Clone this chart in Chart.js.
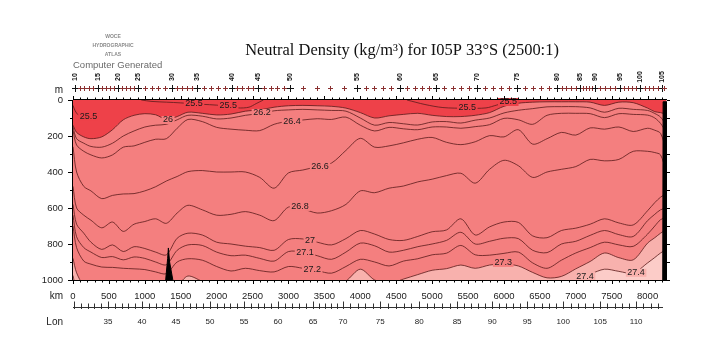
<!DOCTYPE html>
<html><head><meta charset="utf-8">
<script src="https://cdn.jsdelivr.net/npm/chart.js@4.4.1/dist/chart.umd.min.js"></script>
<style>html,body{margin:0;padding:0;background:#fff}canvas{display:block}</style>
</head><body>
<canvas id="c" width="710" height="340"></canvas>
<script>
// ---- distance grid (km) shared by all contour lines ----
const K = [0,50,150,250,400,550,700,850,1000,1150,1300,1450,1600,1800,2000,2200,2400,2600,2800,3000,3200,3400,3600,3800,4000,4200,4400,4600,4800,5000,5200,5400,5600,5800,6000,6200,6400,6600,6800,7000,7200,7400,7600,7800,8000,8100,8180,8260];
// ---- contour depths (m) for each neutral density level ----
const D260 = [140,180,205,215,205,165,110,85,76,82,108,92,68, 74,83,78,62,55,40,32,30,32,35,45,70, 100,88,80,74,85,92,92,85,70,35,18,12,10,10,10,12,30,12,15,45, 65,70,80];
const D262 = [150,215,240,258,262,240,200,172,150,140,135,110,85, 90,105,100,85,75,60,55,52,55,58,62,100, 140,125,132,139,122,120,128,112,100,72,57,48,38,37,37,44,68,46,52,58, 75,95,140];
const D264 = [170,250,285,305,322,305,262,255,235,218,215,157,108, 120,152,162,168,170,135,118,111,104,108,95,140, 172,152,160,165,150,150,157,148,137,102,110,135,85,74,74,76,98,76,80,84, 100,130,180];
const D266 = [260,400,480,505,548,530,522,520,505,482,450,425,398, 392,400,400,400,430,490,405,389,370,350,280,213, 262,255,238,218,208,235,248,232,198,205,165,245,215,180,195,155,162,150,175,157, 168,185,280];
const D268 = [480,600,640,668,710,678,730,690,675,660,685,628,585, 610,640,635,620,640,670,595,605,628,615,580,505, 515,490,478,455,440,420,407,462,385,335,365,430,400,385,370,330,338,330,285,285, 292,305,400];
const D270 = [580,690,740,790,830,805,842,815,825,845,860,768,740, 750,790,800,812,820,835,775,772,790,805,770,725, 745,775,780,758,732,722,660,750,705,678,680,755,765,725,712,690,660,683,694,615, 570,540,520];
const D271 = [640,760,820,845,875,870,888,872,880,900,915,835,805, 808,845,865,862,880,895,842,845,865,885,845,795, 810,845,835,815,800,780,735,800,785,768,770,835,848,800,785,752,725,748,758,670, 635,610,600];
const D272 = [700,820,895,912,928,930,935,938,942,955,965,900,882, 890,925,950,935,948,955,925,935,948,962,925,885, 900,922,895,882,860,851,808,860,862,852,845,905,935,890,850,820,790,805,813,745, 700,665,650];
const D273 = [880,960,1030,1040,1040,1040,1040,1040,1040,1040,1040,1030,978, 1008,1040,1040,1040,1040,1040,1040,1040,1040,1030,1005,940, 1000,1020,995,970,946,937,917,935,917,911,922,958,988,980,938,897,850,876,888,795, 765,740,720];
const D274 = [975,1050,1060,1060,1060,1060,1060,1060,1060,1060,1060,1060,1060, 1060,1060,1060,1060,1060,1060,1060,1060,1060,1060,1060,1060, 1060,1060,1060,1060,1060,1060,1060,1060,1060,1060,1060,1060,1060,1040,1002,968,940,952,962,905, 875,850,830];
// 25.5 contour pieces near the surface
const S255A_KM = [0,30,70,120],            S255A_D = [30,60,82,89];
const S255B_KM = [950,1100,1300,1500,1700,1900,2100,2300,2450,2550,2650], S255B_D = [0,8,12,16,22,26,32,44,40,20,0];
const S255C_KM = [4650,4900,5150,5480,5750,5900,6060,6200], S255C_D = [0,25,42,46,44,28,11,0];
// bottom topography (black)
const SEAMOUNT_KM = [1290,1318,1328,1345,1390], SEAMOUNT_D = [1000,880,822,900,1000];
const LAND_KM = [8210,8216,8270], LAND_D = [1000,10,10];
// contour labels
const LABEL_TXT = ['25.5','25.5','25.5','26','26.2','26.4','26.6','26.8','27','27.1','27.2','25.5','25.5','27.3','27.4','27.4'];
const LABEL_KM  = [215,1685,2160,1323,2630,3050,3440,3160,3300,3230,3330,5490,6060,5990,7840,7130];
const LABEL_D   = [89,22,33,111,72,117,367,594,783,850,944,44,11,905,960,990];
// axes
const KM_TICKS = [0,500,1000,1500,2000,2500,3000,3500,4000,4500,5000,5500,6000,6500,7000,7500,8000];
const DEPTH_TICKS = [0,200,400,600,800,1000];
const LON_LABELS = [35,40,45,50,55,60,65,70,75,80,85,90,95,100,105,110];
const LON_KM = [487,961,1435,1908,2382,2855,3343,3760,4276,4819,5348,5836,6323,6825,7340,7841];
// stations
const STATION_KM = [28,92,156,220,284,348,404,460,516,572,627,683,739,794,850,905,1000,1095,1190,1284,1379,1449,1518,1588,1657,1727,1824,1922,2019,2117,2214,2287,2359,2432,2504,2577,2666,2755,2844,2933,3022,3209,3395,3582,3768,3955,4075,4195,4314,4434,4554,4654,4755,4855,4956,5056,5170,5284,5399,5513,5627,5738,5850,5961,6073,6184,6295,6407,6518,6630,6741,6805,6869,6933,6997,7061,7103,7145,7186,7228,7270,7340,7409,7479,7548,7618,7674,7730,7785,7841,7897,7958,8019,8081,8142,8203,8225];
const STATION_FIRST = 10;

const RED='#ee4149', SALMON='#f47f7f', PINK='#f8b1ad', PALE='#fcccc8', LINE='#5a1a1a';
const pts = (xs, ys) => xs.map((x,i)=>({x:x, y:ys[i]}));

const contours = [
  {d:D260, fill:RED}, {d:D262}, {d:D264}, {d:D266}, {d:D268},
  {d:D270}, {d:D271}, {d:D272}, {d:D273, fill:SALMON}, {d:D274, fill:PINK}
];
const datasets = [
  {data:pts(LAND_KM,LAND_D), borderColor:'#000', borderWidth:1, backgroundColor:'#000', fill:{value:1000}, tension:0},
  {data:pts(SEAMOUNT_KM,SEAMOUNT_D), borderColor:'#000', borderWidth:1, backgroundColor:'#000', fill:{value:1000}, tension:0},
  {data:pts(S255A_KM,S255A_D), borderColor:LINE, borderWidth:0.8, fill:false, tension:0.3},
  {data:pts(S255B_KM,S255B_D), borderColor:LINE, borderWidth:0.8, fill:false, tension:0.3},
  {data:pts(S255C_KM,S255C_D), borderColor:LINE, borderWidth:0.8, fill:false, tension:0.3},
  ...contours.map(c => ({data:pts(K,c.d), borderColor:LINE, borderWidth:0.8,
      backgroundColor:c.fill||'rgba(0,0,0,0)', fill:c.fill?{value:0}:false, tension:0.3}))
];

function bgColorFor(t){ const v=parseFloat(t); if(v<26) return RED; if(v<27.35) return SALMON; return PINK; }
function lonToKm(l){
  let i=0; while(i<LON_LABELS.length-2 && l>LON_LABELS[i+1]) i++;
  const l0=LON_LABELS[i], l1=LON_LABELS[i+1], k0=LON_KM[i], k1=LON_KM[i+1];
  return k0+(l-l0)*(k1-k0)/(l1-l0);
}

const decor = {
  id:'decor',
  beforeDatasetsDraw(chart){
    const a=chart.chartArea, ctx=chart.ctx;
    ctx.save(); ctx.fillStyle=PALE; ctx.fillRect(a.left,a.top,a.right-a.left,a.bottom-a.top); ctx.restore();
  },
  afterDatasetsDraw(chart){
    const ctx=chart.ctx, xs=chart.scales.x, ys=chart.scales.y;
    ctx.save();
    ctx.font='9px "Liberation Sans", Arial, sans-serif';
    ctx.textAlign='center'; ctx.textBaseline='middle';
    LABEL_TXT.forEach((t,i)=>{
      const x=xs.getPixelForValue(LABEL_KM[i]), y=ys.getPixelForValue(LABEL_D[i]);
      const w=ctx.measureText(t).width;
      ctx.fillStyle=bgColorFor(t);
      ctx.fillRect(x-w/2-1.5, Math.min(y-4, chart.chartArea.bottom-8), w+3, 8);
      ctx.fillStyle='#1a1a1a';
      ctx.fillText(t, x, Math.min(y, chart.chartArea.bottom-3.5));
    });
    ctx.restore();
  },
  afterDraw(chart){
    const ctx=chart.ctx, a=chart.chartArea, xs=chart.scales.x, ys=chart.scales.y;
    ctx.save();
    ctx.strokeStyle='#000'; ctx.lineWidth=1;
    // frame
    ctx.beginPath();
    ctx.moveTo(a.left-0.5,a.top); ctx.lineTo(a.left-0.5,a.bottom);
    ctx.moveTo(a.left,a.top-0.5); ctx.lineTo(a.right,a.top-0.5);
    ctx.moveTo(a.left,a.bottom+0.5); ctx.lineTo(a.right,a.bottom+0.5);
    ctx.stroke();
    // km ticks top & bottom
    ctx.beginPath();
    for(let k=0;k<=8200;k+=100){
      const x=Math.round(xs.getPixelForValue(k))+0.5, L=(k%500===0)?4:2.5;
      ctx.moveTo(x,a.top); ctx.lineTo(x,a.top-L);
      ctx.moveTo(x,a.bottom); ctx.lineTo(x,a.bottom+L);
    }
    // depth ticks
    for(let d=0; d<=1000; d+=100){
      const y=Math.round(ys.getPixelForValue(d))+0.5, L=(d%200===0)?5:3;
      ctx.moveTo(a.left,y); ctx.lineTo(a.left-L,y);
      ctx.moveTo(a.right,y); ctx.lineTo(a.right+3,y);
    }
    ctx.stroke();
    // Lon axis
    const ly=307.5;
    ctx.strokeStyle='#333';
    ctx.beginPath(); ctx.moveTo(a.left,ly); ctx.lineTo(a.right-4,ly);
    for(let l=30;l<=114;l++){
      const k=lonToKm(l); if(k<0||k>8240) continue;
      const x=Math.round(xs.getPixelForValue(k))+0.5;
      const L=(l%5===0)?6:4;
      ctx.moveTo(x,ly-L); ctx.lineTo(x,ly+1.5);
    }
    ctx.stroke();
    ctx.fillStyle='#222'; ctx.font='8px "Liberation Sans", Arial, sans-serif';
    ctx.textAlign='center'; ctx.textBaseline='middle';
    LON_LABELS.forEach((l,i)=>ctx.fillText(String(l), xs.getPixelForValue(LON_KM[i]), 322));
    // axis names
    ctx.font='10px "Liberation Sans", Arial, sans-serif'; ctx.textAlign='right'; ctx.fillStyle='#222';
    ctx.fillText('m', 63, 90);
    ctx.fillText('km', 63, 296);
    ctx.fillText('Lon', 63, 322);
    // stations
    STATION_KM.forEach((k,i)=>{
      const x=Math.round(xs.getPixelForValue(k))+0.5, y=88.5;
      const lab=(i%5===0);
      ctx.strokeStyle=lab?'#111':'#8a3030'; ctx.lineWidth=1;
      const r=lab?3.5:2.5;
      ctx.beginPath(); ctx.moveTo(x-r,y); ctx.lineTo(x+r,y); ctx.moveTo(x,y-r); ctx.lineTo(x,y+r); ctx.stroke();
      if(lab){
        ctx.save(); ctx.translate(x,77); ctx.rotate(-Math.PI/2);
        ctx.font='bold 7px "Liberation Sans", Arial, sans-serif'; ctx.fillStyle='#111';
        ctx.textAlign='center'; ctx.textBaseline='middle';
        ctx.fillText(String(STATION_FIRST+i),0,0); ctx.restore();
      }
    });
    // title
    const title='Neutral Density (kg/m\u00B3) for I05P 33\u00B0S (2500:1)';
    ctx.font='15px "Liberation Serif", "Times New Roman", serif';
    let w=ctx.measureText(title).width; const fs=15*314/w;
    ctx.font=fs.toFixed(2)+'px "Liberation Serif", "Times New Roman", serif';
    ctx.fillStyle='#111'; ctx.textAlign='center'; ctx.textBaseline='alphabetic';
    ctx.fillText(title, 402, 55);
    // WOCE logo
    ctx.fillStyle='#8a8a8a'; ctx.font='bold 5px "Liberation Sans", Arial, sans-serif';
    ctx.fillText('WOCE',113,38); ctx.fillText('HYDROGRAPHIC',113,47); ctx.fillText('ATLAS',113,56);
    ctx.fillStyle='#6a6a6a'; ctx.font='9.5px "Liberation Sans", Arial, sans-serif'; ctx.textAlign='left';
    ctx.fillText('Computer Generated',73,68);
    ctx.restore();
  }
};

new Chart(document.getElementById('c'), {
  type:'line',
  data:{datasets},
  options:{
    responsive:false, animation:false, devicePixelRatio:1, events:[],
    layout:{padding:{top:100,right:43,left:0,bottom:0}},
    elements:{point:{radius:0}},
    plugins:{legend:{display:false}, tooltip:{enabled:false}},
    scales:{
      x:{type:'linear', min:0, max:8270, position:'bottom',
         grid:{display:false, drawTicks:false, tickLength:0}, border:{display:false},
         afterBuildTicks:s=>{s.ticks=KM_TICKS.map(v=>({value:v}));},
         afterFit:s=>{s.height=60;},
         ticks:{padding:11, maxRotation:0, autoSkip:false, color:'#222', callback:v=>String(v),
                font:{size:9.5, family:'"Liberation Sans", Arial, sans-serif'}}},
      y:{type:'linear', min:0, max:1000, reverse:true,
         grid:{display:false, drawTicks:false, tickLength:0}, border:{display:false},
         afterBuildTicks:s=>{s.ticks=DEPTH_TICKS.map(v=>({value:v}));},
         afterFit:s=>{s.width=73;},
         ticks:{padding:10, color:'#222', callback:v=>String(v),
                font:{size:9.5, family:'"Liberation Sans", Arial, sans-serif'}}}
    }
  },
  plugins:[decor]
});
</script>
</body></html>
